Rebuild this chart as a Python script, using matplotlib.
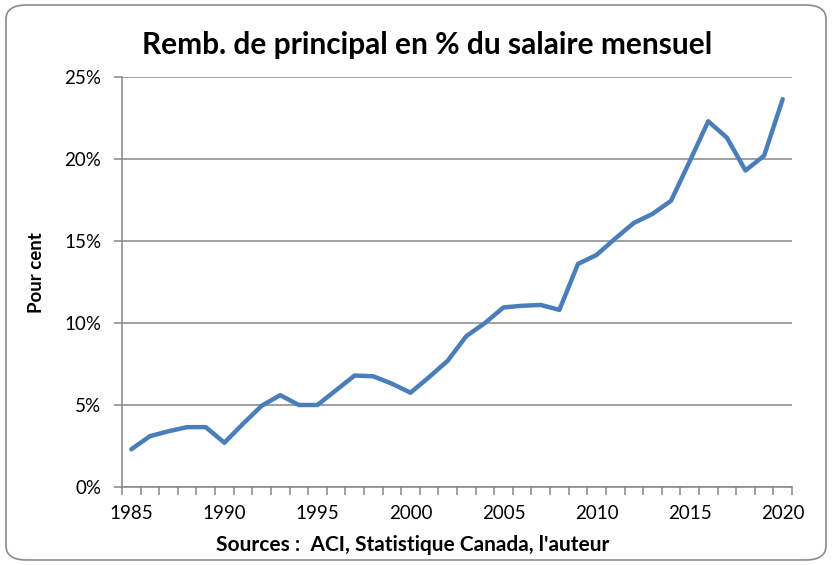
import numpy as np
import matplotlib.pyplot as plt
from matplotlib.patches import FancyBboxPatch
from matplotlib.ticker import PercentFormatter

plt.rcParams['font.family'] = ['Lato', 'DejaVu Sans']

# Data
years = list(range(1985, 2021))
pct = [2.3, 3.1, 3.4, 3.65, 3.65, 2.7, 3.85, 4.95, 5.6, 5.0,
       5.0, 5.9, 6.8, 6.75, 6.3, 5.75, 6.7, 7.7, 9.2, 10.0,
       10.95, 11.05, 11.1, 10.8, 13.6, 14.15, 15.15, 16.1, 16.65, 17.45,
       19.85, 22.3, 21.3, 19.3, 20.2, 23.65]
label_years = [1985, 1990, 1995, 2000, 2005, 2010, 2015, 2020]

fig = plt.figure(figsize=(8.33, 5.65), dpi=100)
ax = fig.add_axes([122 / 833, 1 - 487 / 565, 670 / 833, 410 / 565])

# rounded frame around the whole chart
frame = FancyBboxPatch((6 / 833, 5 / 565), 820 / 833, 555 / 565,
                       boxstyle="round,pad=0,rounding_size=0.025",
                       transform=fig.transFigure, facecolor='none',
                       edgecolor='#8c8c8c', linewidth=1.2)
fig.patches.append(frame)

ax.plot(years, pct, color='#4a7ebb', linewidth=3.2, solid_capstyle='round',
        solid_joinstyle='round', zorder=3)

ax.set_xlim(1984.5, 2020.5)
ax.set_ylim(0, 25)
ax.set_yticks(np.arange(0, 26, 5))
ax.yaxis.set_major_formatter(PercentFormatter(decimals=0))
ax.grid(axis='y', color='#868686', linewidth=1.1)
ax.set_axisbelow(True)

ax.set_xticks(label_years)
ax.set_xticks(np.arange(1984.5, 2021, 1), minor=True)
ax.tick_params(axis='x', which='major', length=0, pad=13, labelsize=13.5)
ax.tick_params(axis='x', which='minor', length=6, width=1.1, color='#868686')
ax.tick_params(axis='y', length=6, width=1.1, color='#868686', labelsize=13.5, pad=9)

for s in ['top', 'right']:
    ax.spines[s].set_visible(False)
for s in ['left', 'bottom']:
    ax.spines[s].set_color('#868686')
    ax.spines[s].set_linewidth(1.1)

fig.text(427 / 833, 1 - 45 / 565, "Remb. de principal en % du salaire mensuel",
         ha='center', va='center', fontsize=21.5, fontweight='bold')
fig.text(36 / 833, 1 - 273 / 565, "Pour cent", rotation=90,
         ha='center', va='center', fontsize=13.5, fontweight='bold')
fig.text(413 / 833, 1 - 545 / 565, "Sources :  ACI, Statistique Canada, l'auteur",
         ha='center', va='center', fontsize=15, fontweight='bold')

fig.savefig('out.png', dpi=100)
